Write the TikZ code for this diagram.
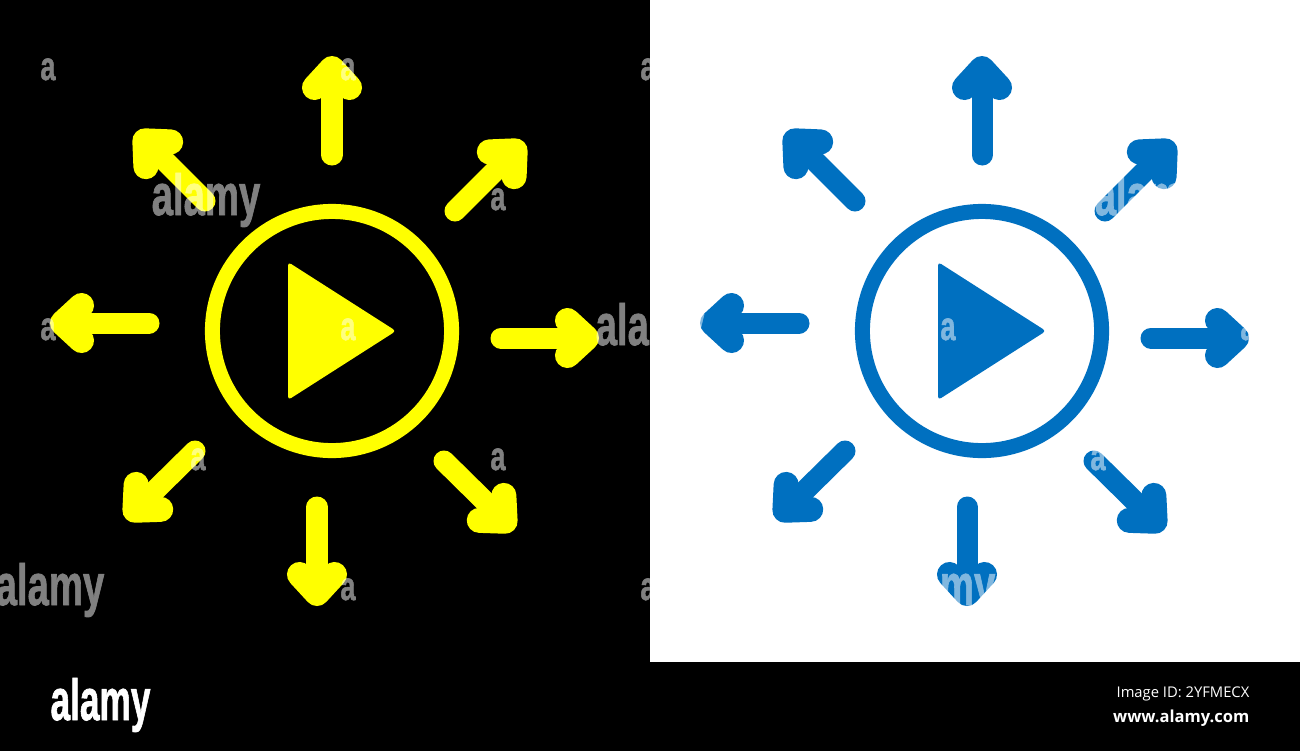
\documentclass[tikz,border=0pt]{standalone}
\usepackage{fontspec}
\setmainfont{Liberation Sans}
\newfontfamily\idfont{Open Sans}
\newfontfamily\markfont[FakeBold=1.5]{Liberation Sans Bold}
\usetikzlibrary{arrows.meta}
\definecolor{iconyellow}{HTML}{FFFF00}
\definecolor{iconblue}{HTML}{0070C0}

\begin{document}
\begin{tikzpicture}[x=0.01cm,y=-0.01cm,
    ray/.style={line width=2.1mm,line cap=round,line join=round,-{Straight Barb[round,length=1.9mm,width=3.5mm,line width=2.5mm]}},
    ring/.style={circle,minimum size=2.39cm,inner sep=0pt,line width=1.5mm},
    bigmark/.style={anchor=base,inner sep=0pt,text=white,xscale=.66,font=\markfont\fontsize{16.5}{18}\selectfont},
    smallmark/.style={anchor=base,inner sep=0pt,text=white,xscale=.68,font=\markfont\fontsize{11.4}{13}\selectfont},
    idtext/.style={anchor=base east,inner sep=0pt,text=white,font=\idfont\fontsize{4.2}{5}\selectfont}]
    \useasboundingbox (0,0) rectangle (1300,751);
    \clip (0,0) rectangle (1300,751);
    \fill[black] (0,0) rectangle (1300,751);
    \fill[white] (650,0) rectangle (1300,662);

    \foreach \ox/\col in {0/iconyellow,650/iconblue}{
        \begin{scope}[shift={(\ox,0)}]
            \node[ring,draw=\col] (ring\ox) at (332,331) {};
            \fill[\col,rounded corners=1pt] (288,262) -- (288,400) -- (396,331) -- cycle;
            \foreach \sx/\sy/\tx/\ty [count=\i] in {332/155/332/56,455/211/524/142,501/338/599/338,444/461/514/530,317/507/317/606,195/451/126/519,149/323/50/323,205/201/136/132}{
                \coordinate (a\ox\i) at (\sx,\sy);
                \coordinate (b\ox\i) at (\tx,\ty);
                \draw[ray,\col] (a\ox\i) -- (b\ox\i);
            }
        \end{scope}
    }

    % overlay
    \begin{scope}[transparency group,opacity=.5]
        \foreach \x/\y [count=\i] in {206/215,650/345,50/605,941/605,1149/215}
            \node[bigmark] (big\i) at (\x,\y) {alamy};
        \foreach \x/\y [count=\i] in {48/80,348/80,648/80,498/210,48/340,348/340,948/340,1248/340,198/470,498/470,1098/470,348/600,648/600}
            \node[smallmark] (small\i) at (\x,\y) {a};
    \end{scope}

    \node[bigmark,xscale=.92] (logo) at (100.5,720) {alamy};
    \node[idtext] (imageid) at (1250,697) {Image ID: 2YFMECX};
    \node[idtext,font=\idfont\fontsize{4.7}{5}\selectfont\bfseries] (website) at (1250,722) {www.alamy.com};
\end{tikzpicture}
\end{document}
